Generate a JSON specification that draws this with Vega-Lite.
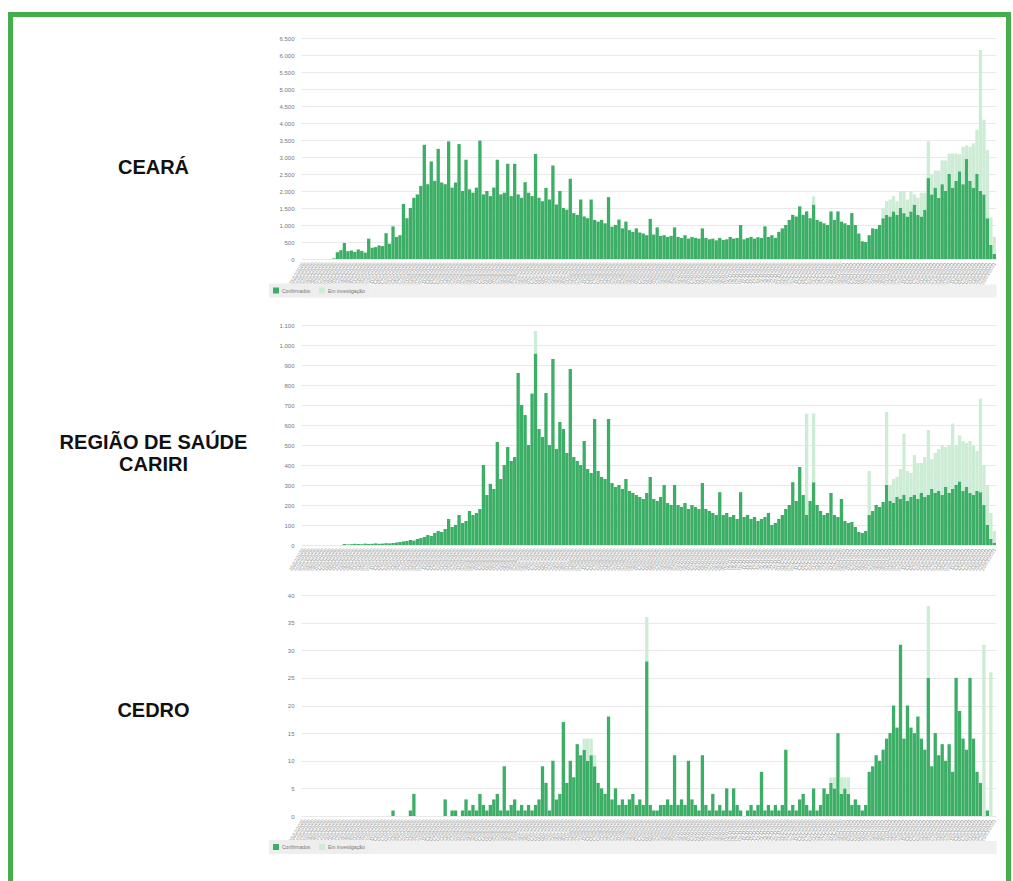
{
"$schema":"https://vega.github.io/schema/vega-lite/v6.json",
"background":"white",
"padding":{"left":7,"top":11,"right":3,"bottom":0},
"bounds":"flush",
"spacing":0,
"columns":5,
"config":{"view":{"stroke":null},"font":"Liberation Sans"},
"resolve":{"scale":{"x":"independent","y":"independent","color":"independent"},"legend":{"color":"independent"}},
"datasets":{
"z":[{"z":0}],
"ce":[{"d":0,"c":0},{"d":1,"c":0},{"d":2,"c":0},{"d":3,"c":0},{"d":4,"c":0},{"d":5,"c":0},{"d":6,"c":0},{"d":7,"c":0},{"d":8,"c":0},{"d":9,"c":20},
{"d":10,"c":200},{"d":11,"c":260},{"d":12,"c":470},{"d":13,"c":230},{"d":14,"c":250},{"d":15,"c":210},{"d":16,"c":280},{"d":17,"c":240},{"d":18,"c":190},{"d":19,"c":600},
{"d":20,"c":330},{"d":21,"c":350},{"d":22,"c":400},{"d":23,"c":380},{"d":24,"c":760},{"d":25,"c":450},{"d":26,"c":960},{"d":27,"c":650},{"d":28,"c":700},{"d":29,"c":1620},
{"d":30,"c":1200},{"d":31,"c":1500},{"d":32,"c":1800},{"d":33,"c":1900},{"d":34,"c":2150},{"d":35,"c":3360},{"d":36,"c":2200},{"d":37,"c":2870},{"d":38,"c":2300},{"d":39,"c":3240},
{"d":40,"c":2250},{"d":41,"c":2200},{"d":42,"c":3460},{"d":43,"c":2100},{"d":44,"c":2250},{"d":45,"c":3380},{"d":46,"c":2000},{"d":47,"c":2920},{"d":48,"c":2050},{"d":49,"c":1950},
{"d":50,"c":2100},{"d":51,"c":3480},{"d":52,"c":1900},{"d":53,"c":2000},{"d":54,"c":1850},{"d":55,"c":2100},{"d":56,"c":2920},{"d":57,"c":1900},{"d":58,"c":1950},{"d":59,"c":2800},
{"d":60,"c":1850},{"d":61,"c":2800},{"d":62,"c":1900},{"d":63,"c":1800},{"d":64,"c":2260},{"d":65,"c":1950},{"d":66,"c":1850},{"d":67,"c":3090},{"d":68,"c":1800},{"d":69,"c":1700},
{"d":70,"c":2090},{"d":71,"c":1750},{"d":72,"c":2750},{"d":73,"c":1600},{"d":74,"c":2000},{"d":75,"c":1500},{"d":76,"c":1450},{"d":77,"c":2360},{"d":78,"c":1350},{"d":79,"c":1300},
{"d":80,"c":1750},{"d":81,"c":1250},{"d":82,"c":1200},{"d":83,"c":1750},{"d":84,"c":1150},{"d":85,"c":1100},{"d":86,"c":1150},{"d":87,"c":1050},{"d":88,"c":1820},{"d":89,"c":950},
{"d":90,"c":1000},{"d":91,"c":1160},{"d":92,"c":900},{"d":93,"c":1100},{"d":94,"c":850},{"d":95,"c":800},{"d":96,"c":900},{"d":97,"c":780},{"d":98,"c":750},{"d":99,"c":700},
{"d":100,"c":1180},{"d":101,"c":720},{"d":102,"c":930},{"d":103,"c":680},{"d":104,"c":700},{"d":105,"c":650},{"d":106,"c":680},{"d":107,"c":930},{"d":108,"c":650},{"d":109,"c":620},
{"d":110,"c":700},{"d":111,"c":600},{"d":112,"c":650},{"d":113,"c":620},{"d":114,"c":600},{"d":115,"c":900},{"d":116,"c":620},{"d":117,"c":580},{"d":118,"c":600},{"d":119,"c":550},
{"d":120,"c":620},{"d":121,"c":560},{"d":122,"c":580},{"d":123,"c":650},{"d":124,"c":600},{"d":125,"c":620},{"d":126,"c":1000},{"d":127,"c":580},{"d":128,"c":620},{"d":129,"c":650},
{"d":130,"c":600},{"d":131,"c":640},{"d":132,"c":620},{"d":133,"c":960},{"d":134,"c":650},{"d":135,"c":700},{"d":136,"c":620},{"d":137,"c":800},{"d":138,"c":900},{"d":139,"c":1000},
{"d":140,"c":1150},{"d":141,"c":1300},{"d":142,"c":1250},{"d":143,"c":1550},{"d":144,"c":1300},{"d":145,"c":1400},{"d":146,"c":1200},{"d":147,"c":1600,"i":240},{"d":148,"c":1150},{"d":149,"c":1100},
{"d":150,"c":1050},{"d":151,"c":1000},{"d":152,"c":1400},{"d":153,"c":1150},{"d":154,"c":1400},{"d":155,"c":1100},{"d":156,"c":1050},{"d":157,"c":1000},{"d":158,"c":1350},{"d":159,"c":1000},
{"d":160,"c":750},{"d":161,"c":520},{"d":162,"c":500},{"d":163,"c":700},{"d":164,"c":900},{"d":165,"c":880},{"d":166,"c":1000},{"d":167,"c":1200,"i":300},{"d":168,"c":1300,"i":400},{"d":169,"c":1250,"i":500},
{"d":170,"c":1400,"i":450},{"d":171,"c":1300,"i":400},{"d":172,"c":1500,"i":500},{"d":173,"c":1350,"i":650},{"d":174,"c":1250,"i":500},{"d":175,"c":1400,"i":600},{"d":176,"c":1600,"i":300},{"d":177,"c":1300,"i":500},{"d":178,"c":1250,"i":700},{"d":179,"c":1450,"i":500},
{"d":180,"c":2380,"i":1080},{"d":181,"c":1900,"i":600},{"d":182,"c":2100,"i":500},{"d":183,"c":1800,"i":800},{"d":184,"c":2200,"i":700},{"d":185,"c":2000,"i":900},{"d":186,"c":2500,"i":600},{"d":187,"c":2100,"i":1000},{"d":188,"c":2300,"i":800},{"d":189,"c":2580,"i":500},
{"d":190,"c":2200,"i":1100},{"d":191,"c":2940,"i":400},{"d":192,"c":2300,"i":1000},{"d":193,"c":2100,"i":1300},{"d":194,"c":2500,"i":1300},{"d":195,"c":2000,"i":4150},{"d":196,"c":1900,"i":2200},{"d":197,"c":1200,"i":2000},{"d":198,"c":420,"i":800},{"d":199,"c":150,"i":500}],
"ca":[{"d":0,"c":0},{"d":1,"c":0},{"d":2,"c":0},{"d":3,"c":0},{"d":4,"c":0},{"d":5,"c":0},{"d":6,"c":0},{"d":7,"c":0},{"d":8,"c":0},{"d":9,"c":0},
{"d":10,"c":0},{"d":11,"c":0},{"d":12,"c":5},{"d":13,"c":3},{"d":14,"c":4},{"d":15,"c":6},{"d":16,"c":5},{"d":17,"c":4},{"d":18,"c":7},{"d":19,"c":5},
{"d":20,"c":6},{"d":21,"c":8},{"d":22,"c":6},{"d":23,"c":7},{"d":24,"c":9},{"d":25,"c":8},{"d":26,"c":10},{"d":27,"c":12},{"d":28,"c":15},{"d":29,"c":18},
{"d":30,"c":20},{"d":31,"c":25},{"d":32,"c":22},{"d":33,"c":30},{"d":34,"c":35},{"d":35,"c":40},{"d":36,"c":50},{"d":37,"c":45},{"d":38,"c":60},{"d":39,"c":70},
{"d":40,"c":65},{"d":41,"c":80},{"d":42,"c":130},{"d":43,"c":90},{"d":44,"c":100},{"d":45,"c":150},{"d":46,"c":110},{"d":47,"c":120},{"d":48,"c":170},{"d":49,"c":150},
{"d":50,"c":160},{"d":51,"c":180},{"d":52,"c":400},{"d":53,"c":250},{"d":54,"c":306},{"d":55,"c":280},{"d":56,"c":515},{"d":57,"c":330},{"d":58,"c":400},{"d":59,"c":490},
{"d":60,"c":420},{"d":61,"c":440},{"d":62,"c":860},{"d":63,"c":700},{"d":64,"c":650},{"d":65,"c":500},{"d":66,"c":757},{"d":67,"c":958,"i":112},{"d":68,"c":580},{"d":69,"c":540},
{"d":70,"c":760},{"d":71,"c":500},{"d":72,"c":930},{"d":73,"c":480},{"d":74,"c":615},{"d":75,"c":580},{"d":76,"c":460},{"d":77,"c":880},{"d":78,"c":440},{"d":79,"c":420},
{"d":80,"c":400},{"d":81,"c":520},{"d":82,"c":380},{"d":83,"c":360},{"d":84,"c":630},{"d":85,"c":370},{"d":86,"c":340},{"d":87,"c":330},{"d":88,"c":630},{"d":89,"c":310},
{"d":90,"c":290},{"d":91,"c":300},{"d":92,"c":280},{"d":93,"c":330},{"d":94,"c":270},{"d":95,"c":260},{"d":96,"c":250},{"d":97,"c":240},{"d":98,"c":230},{"d":99,"c":260},
{"d":100,"c":340},{"d":101,"c":230},{"d":102,"c":220},{"d":103,"c":240},{"d":104,"c":300},{"d":105,"c":210},{"d":106,"c":200},{"d":107,"c":300},{"d":108,"c":200},{"d":109,"c":190},
{"d":110,"c":210},{"d":111,"c":180},{"d":112,"c":200},{"d":113,"c":190},{"d":114,"c":180},{"d":115,"c":310},{"d":116,"c":180},{"d":117,"c":170},{"d":118,"c":160},{"d":119,"c":150},
{"d":120,"c":264},{"d":121,"c":150},{"d":122,"c":160},{"d":123,"c":140},{"d":124,"c":150},{"d":125,"c":130},{"d":126,"c":264},{"d":127,"c":140},{"d":128,"c":150},{"d":129,"c":130},
{"d":130,"c":140},{"d":131,"c":120},{"d":132,"c":130},{"d":133,"c":140},{"d":134,"c":160},{"d":135,"c":100},{"d":136,"c":110},{"d":137,"c":130},{"d":138,"c":150},{"d":139,"c":180},
{"d":140,"c":200},{"d":141,"c":314},{"d":142,"c":220},{"d":143,"c":390},{"d":144,"c":250},{"d":145,"c":150,"i":507},{"d":146,"c":220},{"d":147,"c":314,"i":343},{"d":148,"c":200},{"d":149,"c":170},
{"d":150,"c":150},{"d":151,"c":160},{"d":152,"c":260},{"d":153,"c":150},{"d":154,"c":140},{"d":155,"c":230},{"d":156,"c":120},{"d":157,"c":110},{"d":158,"c":115},{"d":159,"c":90},
{"d":160,"c":65},{"d":161,"c":60},{"d":162,"c":70},{"d":163,"c":150,"i":220},{"d":164,"c":170},{"d":165,"c":200},{"d":166,"c":190},{"d":167,"c":215},{"d":168,"c":300,"i":365},{"d":169,"c":220,"i":80},
{"d":170,"c":210,"i":120},{"d":171,"c":240,"i":100},{"d":172,"c":230,"i":150},{"d":173,"c":250,"i":305},{"d":174,"c":220,"i":150},{"d":175,"c":240,"i":120},{"d":176,"c":250,"i":200},{"d":177,"c":230,"i":180},{"d":178,"c":260,"i":150},{"d":179,"c":240,"i":200},
{"d":180,"c":250,"i":325},{"d":181,"c":280,"i":150},{"d":182,"c":260,"i":200},{"d":183,"c":270,"i":210},{"d":184,"c":250,"i":250},{"d":185,"c":290,"i":200},{"d":186,"c":260,"i":240},{"d":187,"c":280,"i":327},{"d":188,"c":300,"i":200},{"d":189,"c":318,"i":230},
{"d":190,"c":270,"i":250},{"d":191,"c":290,"i":220},{"d":192,"c":260,"i":260},{"d":193,"c":250,"i":250},{"d":194,"c":270,"i":200},{"d":195,"c":264,"i":468},{"d":196,"c":200,"i":200},{"d":197,"c":100,"i":200},{"d":198,"c":30,"i":130},{"d":199,"c":10,"i":60}],
"cd":[{"d":0,"c":0},{"d":1,"c":0},{"d":2,"c":0},{"d":3,"c":0},{"d":4,"c":0},{"d":5,"c":0},{"d":6,"c":0},{"d":7,"c":0},{"d":8,"c":0},{"d":9,"c":0},
{"d":10,"c":0},{"d":11,"c":0},{"d":12,"c":0},{"d":13,"c":0},{"d":14,"c":0},{"d":15,"c":0},{"d":16,"c":0},{"d":17,"c":0},{"d":18,"c":0},{"d":19,"c":0},
{"d":20,"c":0},{"d":21,"c":0},{"d":22,"c":0},{"d":23,"c":0},{"d":24,"c":0},{"d":25,"c":0},{"d":26,"c":1},{"d":27,"c":0},{"d":28,"c":0},{"d":29,"c":0},
{"d":30,"c":0},{"d":31,"c":1},{"d":32,"c":4},{"d":33,"c":0},{"d":34,"c":0},{"d":35,"c":0},{"d":36,"c":0},{"d":37,"c":0},{"d":38,"c":0},{"d":39,"c":0},
{"d":40,"c":0},{"d":41,"c":3},{"d":42,"c":0},{"d":43,"c":1},{"d":44,"c":1},{"d":45,"c":0},{"d":46,"c":1},{"d":47,"c":3},{"d":48,"c":1},{"d":49,"c":2},
{"d":50,"c":1},{"d":51,"c":4},{"d":52,"c":2},{"d":53,"c":1},{"d":54,"c":2},{"d":55,"c":3},{"d":56,"c":4},{"d":57,"c":1},{"d":58,"c":9},{"d":59,"c":1},
{"d":60,"c":2},{"d":61,"c":3},{"d":62,"c":1},{"d":63,"c":2},{"d":64,"c":1},{"d":65,"c":2},{"d":66,"c":1},{"d":67,"c":2},{"d":68,"c":3},{"d":69,"c":9},
{"d":70,"c":6},{"d":71,"c":1},{"d":72,"c":10},{"d":73,"c":3},{"d":74,"c":4},{"d":75,"c":17},{"d":76,"c":6},{"d":77,"c":10},{"d":78,"c":7},{"d":79,"c":13},
{"d":80,"c":11},{"d":81,"c":12,"i":2},{"d":82,"c":10,"i":4},{"d":83,"c":11,"i":3},{"d":84,"c":9,"i":2},{"d":85,"c":6},{"d":86,"c":5},{"d":87,"c":4},{"d":88,"c":18},{"d":89,"c":3},
{"d":90,"c":5},{"d":91,"c":2},{"d":92,"c":3},{"d":93,"c":2},{"d":94,"c":3},{"d":95,"c":4},{"d":96,"c":2},{"d":97,"c":3},{"d":98,"c":2},{"d":99,"c":28,"i":8},
{"d":100,"c":2},{"d":101,"c":1},{"d":102,"c":1},{"d":103,"c":2},{"d":104,"c":2},{"d":105,"c":3},{"d":106,"c":2},{"d":107,"c":11},{"d":108,"c":2},{"d":109,"c":3},
{"d":110,"c":2},{"d":111,"c":10},{"d":112,"c":3},{"d":113,"c":2},{"d":114,"c":1},{"d":115,"c":11},{"d":116,"c":2},{"d":117,"c":1},{"d":118,"c":4},{"d":119,"c":1},
{"d":120,"c":2},{"d":121,"c":1},{"d":122,"c":5},{"d":123,"c":1},{"d":124,"c":5},{"d":125,"c":2},{"d":126,"c":1},{"d":127,"c":0},{"d":128,"c":1},{"d":129,"c":2},
{"d":130,"c":1},{"d":131,"c":2},{"d":132,"c":8},{"d":133,"c":1},{"d":134,"c":2},{"d":135,"c":1},{"d":136,"c":2},{"d":137,"c":1},{"d":138,"c":2},{"d":139,"c":12},
{"d":140,"c":1},{"d":141,"c":2},{"d":142,"c":1},{"d":143,"c":3},{"d":144,"c":4},{"d":145,"c":2},{"d":146,"c":1},{"d":147,"c":5},{"d":148,"c":1},{"d":149,"c":2},
{"d":150,"c":5},{"d":151,"c":4},{"d":152,"c":6,"i":1},{"d":153,"c":5,"i":2},{"d":154,"c":15},{"d":155,"c":4,"i":3},{"d":156,"c":5,"i":2},{"d":157,"c":4,"i":3},{"d":158,"c":2},{"d":159,"c":3},
{"d":160,"c":2},{"d":161,"c":1},{"d":162,"c":2},{"d":163,"c":8},{"d":164,"c":9},{"d":165,"c":11},{"d":166,"c":10},{"d":167,"c":12},{"d":168,"c":14},{"d":169,"c":15},
{"d":170,"c":20},{"d":171,"c":16},{"d":172,"c":31},{"d":173,"c":14},{"d":174,"c":20},{"d":175,"c":16},{"d":176,"c":15},{"d":177,"c":18},{"d":178,"c":14},{"d":179,"c":12},
{"d":180,"c":25,"i":13},{"d":181,"c":9},{"d":182,"c":15},{"d":183,"c":11},{"d":184,"c":13},{"d":185,"c":10},{"d":186,"c":13},{"d":187,"c":8},{"d":188,"c":25},{"d":189,"c":19},
{"d":190,"c":14},{"d":191,"c":12},{"d":192,"c":25},{"d":193,"c":14},{"d":194,"c":8},{"d":195,"c":6},{"d":196,"c":0,"i":31},{"d":197,"c":1},{"d":198,"c":0,"i":26},{"d":199,"c":0}]
},
"concat":[
{"width":5,"height":5,"data":{"name":"z"},"mark":{"type":"point","opacity":0},"encoding":{},"view":{"fill":"#43ae4a","stroke":null}},
{"width":288,"height":5,"data":{"name":"z"},"mark":{"type":"point","opacity":0},"encoding":{},"view":{"fill":"#43ae4a","stroke":null}},
{"width":695,"height":5,"data":{"name":"z"},"mark":{"type":"point","opacity":0},"encoding":{},"view":{"fill":"#43ae4a","stroke":null}},
{"width":10,"height":5,"data":{"name":"z"},"mark":{"type":"point","opacity":0},"encoding":{},"view":{"fill":"#43ae4a","stroke":null}},
{"width":5,"height":5,"data":{"name":"z"},"mark":{"type":"point","opacity":0},"encoding":{},"view":{"fill":"#43ae4a","stroke":null}},

{"width":5,"height":292,"data":{"name":"z"},"mark":{"type":"point","opacity":0},"encoding":{},"view":{"fill":"#43ae4a","stroke":null}},
{"width":288,"height":1,"data":{"name":"z"},"mark":{"type":"point","opacity":0},"encoding":{}},
{"width":695,"height":242,"data":{"name":"ce"},"transform":[{"fold":["c","i"],"as":["k","v"]}],
  "layer":[
   {"mark":{"type":"bar"},
    "encoding":{
     "x":{"field":"d","type":"ordinal","scale":{"paddingInner":0.05,"paddingOuter":0},
      "axis":{"orient":"bottom","title":null,"labelAngle":-60,"labelFontSize":5,"labelColor":"#999999","labelPadding":3,"ticks":false,"domain":false,"grid":false,"labelOverlap":false,"labelBound":false,"labelFlush":false,"labelExpr":"timeFormat(datetime(2020,1,25+2*datum.value),'%d/%m/%Y')"}},
     "y":{"field":"v","type":"quantitative","stack":"zero","scale":{"domain":[0,7118],"nice":false},
      "axis":{"values":[0,500,1000,1500,2000,2500,3000,3500,4000,4500,5000,5500,6000,6500],"title":"CEARÁ","titleAngle":0,"titleX":-148,"titleY":150,"titleAlign":"center","titleBaseline":"middle","titleFontSize":20,"titleFontWeight":"bold","titleColor":"#111111","labelFontSize":6,"labelColor":"#777777","labelPadding":7,"ticks":false,"domain":false,"grid":true,"gridColor":"#e9e9e9","labelExpr":"replace(format(datum.value, ','), ',', '.')"}},
     "color":{"field":"k","type":"nominal","scale":{"domain":["c","i"],"range":["#3dae66","#cdecd6"]},
      "legend":{"orient":"none","legendX":-32,"legendY":266.5,"direction":"horizontal","title":null,"symbolType":"square","symbolSize":36,"symbolStrokeWidth":0,"labelFontSize":5,"labelColor":"#777777","labelOffset":3,"columnPadding":8,"padding":4,"fillColor":"#eeeeee","labelExpr":"datum.label == 'c' ? 'Confirmados' : 'Em investigação'"}},
     "order":{"field":"k","sort":"ascending"}}},
   {"mark":{"type":"point","opacity":0},
    "encoding":{"x":{"field":"d","type":"ordinal","axis":{"orient":"bottom","title":null,"labels":false,"ticks":false,"grid":false,"domain":true,"domainColor":"#f0f0f0","domainWidth":13,"offset":31.5}}}}
  ],
  "resolve":{"axis":{"x":"independent"}}},
{"width":10,"height":1,"data":{"name":"z"},"mark":{"type":"point","opacity":0},"encoding":{}},
{"width":5,"height":292,"data":{"name":"z"},"mark":{"type":"point","opacity":0},"encoding":{},"view":{"fill":"#43ae4a","stroke":null}},

{"width":5,"height":286,"data":{"name":"z"},"mark":{"type":"point","opacity":0},"encoding":{},"view":{"fill":"#43ae4a","stroke":null}},
{"width":288,"height":1,"data":{"name":"z"},"mark":{"type":"point","opacity":0},"encoding":{}},
{"width":695,"height":236,"data":{"name":"ca"},"transform":[{"fold":["c","i"],"as":["k","v"]}],
  "mark":{"type":"bar"},
  "encoding":{
   "x":{"field":"d","type":"ordinal","scale":{"paddingInner":0.05,"paddingOuter":0},
    "axis":{"orient":"bottom","title":null,"labelAngle":-60,"labelFontSize":5,"labelColor":"#999999","labelPadding":3,"ticks":false,"domain":false,"grid":false,"labelOverlap":false,"labelBound":false,"labelFlush":false,"labelExpr":"timeFormat(datetime(2020,1,25+2*datum.value),'%d/%m/%Y')"}},
   "y":{"field":"v","type":"quantitative","stack":"zero","scale":{"domain":[0,1180],"nice":false},
    "axis":{"values":[0,100,200,300,400,500,600,700,800,900,1000,1100],"title":["REGIÃO DE SAÚDE","CARIRI"],"titleLineHeight":22,"titleAngle":0,"titleX":-148,"titleY":133,"titleAlign":"center","titleBaseline":"middle","titleFontSize":20,"titleFontWeight":"bold","titleColor":"#111111","labelFontSize":6,"labelColor":"#777777","labelPadding":7,"ticks":false,"domain":false,"grid":true,"gridColor":"#e9e9e9","labelExpr":"replace(format(datum.value, ','), ',', '.')"}},
   "color":{"field":"k","type":"nominal","scale":{"domain":["c","i"],"range":["#3dae66","#cdecd6"]},"legend":null},
   "order":{"field":"k","sort":"ascending"}}},
{"width":10,"height":1,"data":{"name":"z"},"mark":{"type":"point","opacity":0},"encoding":{}},
{"width":5,"height":286,"data":{"name":"z"},"mark":{"type":"point","opacity":0},"encoding":{},"view":{"fill":"#43ae4a","stroke":null}},

{"width":5,"height":287,"data":{"name":"z"},"mark":{"type":"point","opacity":0},"encoding":{},"view":{"fill":"#43ae4a","stroke":null}},
{"width":288,"height":1,"data":{"name":"z"},"mark":{"type":"point","opacity":0},"encoding":{}},
{"width":695,"height":221,"data":{"name":"cd"},"transform":[{"fold":["c","i"],"as":["k","v"]}],
  "layer":[
   {"mark":{"type":"bar"},
    "encoding":{
     "x":{"field":"d","type":"ordinal","scale":{"paddingInner":0.05,"paddingOuter":0},
      "axis":{"orient":"bottom","title":null,"labelAngle":-60,"labelFontSize":5,"labelColor":"#999999","labelPadding":3,"ticks":false,"domain":false,"grid":false,"labelOverlap":false,"labelBound":false,"labelFlush":false,"labelExpr":"timeFormat(datetime(2020,1,25+2*datum.value),'%d/%m/%Y')"}},
     "y":{"field":"v","type":"quantitative","stack":"zero","scale":{"domain":[0,40],"nice":false},
      "axis":{"values":[0,5,10,15,20,25,30,35,40],"title":"CEDRO","titleAngle":0,"titleX":-148,"titleY":115,"titleAlign":"center","titleBaseline":"middle","titleFontSize":20,"titleFontWeight":"bold","titleColor":"#111111","labelFontSize":6,"labelColor":"#777777","labelPadding":7,"ticks":false,"domain":false,"grid":true,"gridColor":"#e9e9e9"}},
     "color":{"field":"k","type":"nominal","scale":{"domain":["c","i"],"range":["#3dae66","#cdecd6"]},
      "legend":{"orient":"none","legendX":-32,"legendY":245,"direction":"horizontal","title":null,"symbolType":"square","symbolSize":36,"symbolStrokeWidth":0,"labelFontSize":5,"labelColor":"#777777","labelOffset":3,"columnPadding":8,"padding":4,"fillColor":"#eeeeee","labelExpr":"datum.label == 'c' ? 'Confirmados' : 'Em investigação'"}},
     "order":{"field":"k","sort":"ascending"}}},
   {"mark":{"type":"point","opacity":0},
    "encoding":{"x":{"field":"d","type":"ordinal","axis":{"orient":"bottom","title":null,"labels":false,"ticks":false,"grid":false,"domain":true,"domainColor":"#f0f0f0","domainWidth":13,"offset":31}}}}
  ],
  "resolve":{"axis":{"x":"independent"}}},
{"width":10,"height":1,"data":{"name":"z"},"mark":{"type":"point","opacity":0},"encoding":{}},
{"width":5,"height":287,"data":{"name":"z"},"mark":{"type":"point","opacity":0},"encoding":{},"view":{"fill":"#43ae4a","stroke":null}}
]
}
